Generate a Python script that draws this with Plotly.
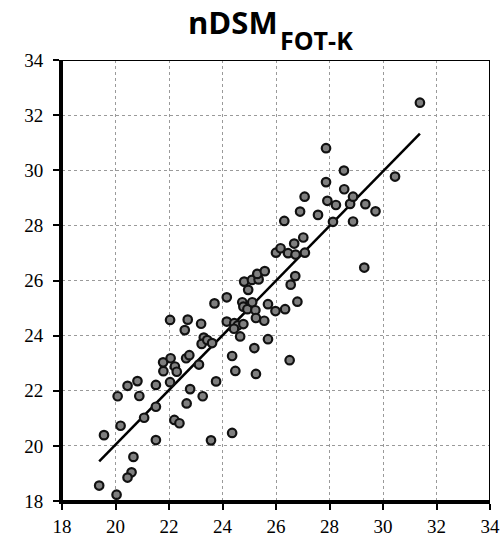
import numpy as np
import plotly.graph_objects as go

# reference (x) values
x_vals = [19.39, 20.04, 19.57, 20.19, 20.08, 20.45, 20.82, 20.89, 20.67, 20.60,
          20.45, 21.07, 21.51, 21.51, 21.51, 21.79, 21.78, 22.04, 22.20, 22.39,
          22.06, 22.22, 22.29, 22.64, 22.76, 23.12, 22.66, 22.79, 23.26, 23.76,
          23.57, 24.36, 24.48, 25.25, 22.04, 22.70, 22.59, 23.20, 23.30, 23.22,
          23.43, 23.61, 23.70, 24.16, 24.16, 24.36, 24.44, 24.57, 24.43, 24.78,
          24.66, 24.74, 24.78, 24.93, 25.11, 25.23, 25.25, 25.56, 25.70, 25.98,
          26.34, 25.19, 25.70, 26.51, 24.81, 24.96, 25.10, 25.35, 25.30, 25.58,
          26.55, 26.80, 26.72, 26.00, 26.17, 26.45, 26.73, 27.08, 26.68, 27.02,
          26.31, 26.90, 27.57, 27.92, 28.24, 28.77, 29.34, 28.88, 28.13, 27.07,
          27.87, 28.54, 27.87, 30.45, 28.55, 28.88, 29.72, 31.38, 29.30]
# estimated (y) values
y_vals = [18.56, 18.23, 20.39, 20.73, 21.80, 22.18, 22.35, 21.81, 19.60, 19.04,
          18.85, 21.02, 21.42, 20.21, 22.21, 22.71, 23.03, 22.31, 20.94, 20.82,
          23.18, 22.88, 22.69, 23.18, 23.29, 22.95, 21.54, 22.06, 21.80, 22.34,
          20.20, 20.47, 22.72, 22.61, 24.57, 24.58, 24.20, 24.43, 23.93, 23.70,
          23.84, 23.73, 25.17, 25.39, 24.51, 23.26, 24.45, 24.37, 24.25, 24.42,
          23.97, 25.21, 25.05, 24.96, 25.21, 24.92, 24.64, 24.54, 25.14, 24.89,
          24.96, 23.55, 23.87, 23.11, 25.96, 25.66, 26.02, 26.04, 26.24, 26.34,
          25.85, 25.23, 26.16, 27.01, 27.17, 26.99, 26.94, 27.01, 27.34, 27.56,
          28.16, 28.50, 28.38, 28.89, 28.74, 28.78, 28.77, 28.14, 28.13, 29.04,
          30.80, 29.99, 29.57, 29.77, 29.31, 29.04, 28.51, 32.45, 26.47]

axis_ticks = [18, 20, 22, 24, 26, 28, 30, 32, 34]
title_main = "nDSM"
title_sub = "FOT-K"

xa = np.array(x_vals)
ya = np.array(y_vals)
slope, intercept = np.polyfit(xa, ya, 1)
fit_x = np.array([xa.min(), xa.max()])
fit_y = slope * fit_x + intercept

fig = go.Figure()
fig.add_trace(go.Scatter(
    x=fit_x, y=fit_y, mode="lines",
    line=dict(color="black", width=2.5), showlegend=False, hoverinfo="skip"))
fig.add_trace(go.Scatter(
    x=x_vals, y=y_vals, mode="markers",
    marker=dict(size=8.5, color="#7f7f7f", line=dict(color="#111111", width=2.2)),
    showlegend=False))

serif = "'Liberation Serif', 'Times New Roman', serif"
axis_common = dict(
    range=[18, 34], tickmode="array", tickvals=axis_ticks,
    ticktext=[str(t) for t in axis_ticks],
    showgrid=True, gridcolor="#9a9a9a", gridwidth=1, griddash="dot",
    showline=True, linecolor="black", linewidth=3,
    ticks="outside", ticklen=6, tickwidth=2, tickcolor="black",
    tickfont=dict(family=serif, size=19, color="black"),
    zeroline=False, fixedrange=True, automargin=False,
)

fig.update_layout(
    width=504, height=539,
    margin=dict(l=62, r=14, t=60, b=38),
    paper_bgcolor="white", plot_bgcolor="white",
    font=dict(family=serif, size=19, color="black"),
    xaxis=dict(axis_common, ticklabelstandoff=0),
    yaxis=dict(axis_common, ticklabelstandoff=6),
)
fig.add_annotation(
    xref="paper", yref="paper", x=0.5093, y=1.087,
    xanchor="right", yanchor="middle", showarrow=False,
    text="<b>" + title_main + "</b>",
    font=dict(family="Open Sans", size=31, color="black"))
fig.add_annotation(
    xref="paper", yref="paper", x=0.5047, y=1.045,
    xanchor="left", yanchor="middle", showarrow=False,
    text="<b>" + title_sub + "</b>",
    font=dict(family="Open Sans", size=25, color="black"))
fig.add_shape(type="rect", xref="x", yref="y", x0=18, x1=34, y0=18, y1=34,
              line=dict(color="black", width=2), layer="above")

fig.write_html("out.html")
